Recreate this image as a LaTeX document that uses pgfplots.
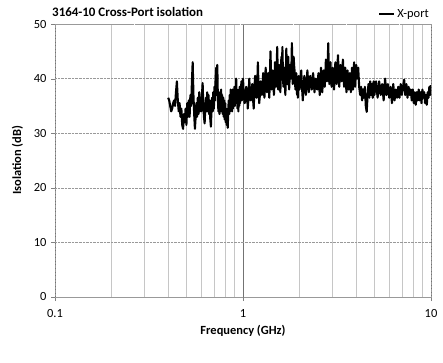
\documentclass[border=0pt]{standalone}
\usepackage{fontspec}
\setmainfont{Carlito}
\usepackage{pgfplots}
\pgfplotsset{compat=1.18}
\begin{document}
\begin{tikzpicture}
\path[use as bounding box] (-55bp,-66bp) rectangle (388bp,297bp);
\begin{axis}[
  at={(0bp,0bp)}, anchor=south west,
  scale only axis,
  width=376bp, height=273bp,
  xmode=log, log basis x=10,
  xmin=0.1, xmax=10, ymin=0, ymax=50,
  xtick={0.1,1,10}, xticklabels={0.1,1,10},
  minor xtick={0.2,0.3,0.4,0.5,0.6,0.7,0.8,0.9,2,3,4,5,6,7,8,9},
  ytick={0,10,20,30,40,50},
  /pgf/number format/assume math mode=true,
  font=\fontsize{12.5}{14}\selectfont,
  axis line style={gray!80, densely dotted},
  xmajorgrids, xminorgrids, ymajorgrids,
  major x grid style={solid, gray!90!black, line width=0.5pt},
  minor x grid style={solid, gray!45, line width=0.5pt},
  major y grid style={densely dotted, gray!80},
  tick style={gray, solid},
  minor tick length=0pt,
  major tick length=4bp,
  tick align=outside,
  xtick pos=bottom, ytick pos=left,
  xticklabel style={yshift=-5bp},
  yticklabel style={xshift=-1bp},
  xlabel={\textbf{Frequency (GHz)}},
  ylabel={\textbf{Isolation (dB)}},
  xlabel style={yshift=-1bp},
  ylabel style={yshift=4bp},
  legend style={at={(1.0,1.0)}, anchor=south east, draw=none, fill=none, inner sep=0pt, font=\fontsize{12.5}{14}\selectfont, yshift=3bp},
  legend image code/.code={\draw[line width=2.2pt] (0bp,0bp) -- (15bp,0bp);},
  legend cell align=left,
]
\addplot[black, line width=2.1pt, line join=round] coordinates {
(0.400,36.5)(0.405,36.0)(0.410,35.0)(0.415,34.0)(0.420,34.5)(0.425,35.5)(0.430,36.0)(0.435,35.0)(0.440,37.5)(0.445,39.5)
(0.450,36.0)(0.455,34.0)(0.460,35.5)(0.465,33.0)(0.470,34.5)(0.475,31.5)(0.480,30.8)(0.485,33.5)(0.490,32.0)(0.495,34.5)
(0.500,31.5)(0.505,35.5)(0.510,33.0)(0.515,36.0)(0.520,33.0)(0.525,37.0)(0.530,35.0)(0.535,39.5)(0.540,43.0)(0.545,37.0)
(0.550,33.5)(0.555,30.8)(0.560,33.0)(0.565,35.5)(0.570,33.0)(0.575,36.5)(0.580,33.5)(0.585,37.5)(0.590,34.0)(0.595,36.5)
(0.600,34.0)(0.605,37.0)(0.610,39.2)(0.615,35.0)(0.620,33.0)(0.625,31.8)(0.630,34.5)(0.635,36.5)(0.640,34.0)(0.645,37.5)
(0.650,34.0)(0.655,37.0)(0.660,33.5)(0.665,36.0)(0.670,32.5)(0.675,31.2)(0.680,34.5)(0.685,36.5)(0.690,34.0)(0.695,37.5)
(0.700,34.5)(0.705,38.5)(0.710,36.0)(0.715,40.0)(0.720,42.0)(0.725,37.0)(0.730,42.5)(0.735,36.5)(0.740,34.0)(0.745,36.5)
(0.750,33.5)(0.755,37.5)(0.760,34.0)(0.765,38.0)(0.770,34.0)(0.775,37.0)(0.780,33.5)(0.785,36.5)(0.790,33.0)(0.795,36.0)
(0.800,32.5)(0.805,35.5)(0.810,32.0)(0.815,34.5)(0.820,31.5)(0.825,33.5)(0.830,31.0)(0.835,34.5)(0.840,36.0)(0.845,33.5)
(0.850,37.0)(0.855,34.0)(0.860,38.0)(0.865,34.5)(0.870,37.5)(0.875,34.0)(0.880,38.0)(0.885,34.5)(0.890,37.0)(0.895,35.0)
(0.900,38.5)(0.905,35.0)(0.910,37.5)(0.915,35.5)(0.920,40.0)(0.925,36.0)(0.930,38.0)(0.935,34.5)(0.940,37.5)(0.945,34.0)
(0.950,38.0)(0.955,35.0)(0.960,38.5)(0.965,35.5)(0.970,38.0)(0.975,36.0)(0.980,39.5)(0.985,36.0)(0.990,38.5)(0.995,36.5)
(1.00,40.0)(1.01,37.0)(1.02,35.5)(1.03,36.0)(1.04,38.5)(1.05,38.0)(1.06,34.5)(1.07,36.5)(1.08,40.0)(1.09,37.0)
(1.10,36.0)(1.11,37.5)(1.12,39.0)(1.13,36.5)(1.14,34.5)(1.15,38.0)(1.16,40.5)(1.17,37.5)(1.18,36.5)(1.19,38.5)
(1.20,43.0)(1.21,38.0)(1.22,35.5)(1.23,37.0)(1.24,39.5)(1.25,38.5)(1.26,37.0)(1.27,38.5)(1.28,41.0)(1.29,38.0)
(1.30,36.5)(1.31,39.0)(1.32,42.0)(1.33,38.5)(1.34,37.5)(1.35,39.0)(1.36,41.0)(1.37,38.5)(1.38,36.5)(1.39,40.0)
(1.40,45.0)(1.41,41.0)(1.42,38.0)(1.43,39.5)(1.44,41.5)(1.45,40.0)(1.46,37.0)(1.47,39.0)(1.48,43.0)(1.49,40.5)
(1.50,38.5)(1.51,41.0)(1.52,45.8)(1.53,41.5)(1.54,38.0)(1.55,40.5)(1.56,42.5)(1.57,39.5)(1.58,37.5)(1.59,40.5)
(1.60,44.0)(1.61,40.0)(1.62,45.8)(1.63,41.5)(1.64,38.5)(1.65,40.0)(1.66,42.0)(1.67,39.5)(1.68,37.0)(1.69,40.5)
(1.70,45.5)(1.71,42.0)(1.72,39.0)(1.73,40.5)(1.74,44.0)(1.75,41.0)(1.76,38.0)(1.77,40.0)(1.78,42.5)(1.79,41.0)
(1.80,40.0)(1.81,42.0)(1.82,46.5)(1.83,42.5)(1.84,39.0)(1.85,41.0)(1.86,44.0)(1.87,42.5)(1.88,41.5)(1.89,40.0)
(1.90,38.0)(1.91,39.5)(1.92,41.0)(1.93,39.0)(1.94,37.0)(1.95,38.5)(1.96,36.5)(1.97,38.5)(1.98,40.5)(1.99,39.0)
(2.00,38.0)(2.02,39.5)(2.04,41.5)(2.06,38.5)(2.08,36.0)(2.10,38.5)(2.12,40.5)(2.14,38.5)(2.16,37.0)(2.18,39.0)
(2.20,41.5)(2.22,39.5)(2.24,37.5)(2.26,39.0)(2.28,40.5)(2.30,39.5)(2.32,38.0)(2.34,39.0)(2.36,41.0)(2.38,39.5)
(2.40,37.5)(2.42,39.0)(2.44,40.0)(2.46,39.0)(2.48,38.0)(2.50,39.5)(2.52,41.0)(2.54,39.0)(2.56,37.0)(2.58,39.5)
(2.60,42.0)(2.62,40.0)(2.64,37.5)(2.66,39.5)(2.68,41.5)(2.70,40.0)(2.72,38.5)(2.74,40.5)(2.76,43.5)(2.78,41.0)
(2.80,39.5)(2.82,42.0)(2.84,46.5)(2.86,42.0)(2.88,39.0)(2.90,41.0)(2.92,43.0)(2.94,40.5)(2.96,38.5)(2.98,40.0)
(3.00,42.0)(3.05,38.0)(3.10,43.0)(3.15,39.0)(3.20,44.3)(3.25,38.5)(3.30,42.5)(3.35,39.5)(3.40,43.5)(3.45,38.5)
(3.50,42.0)(3.55,37.5)(3.60,41.5)(3.65,38.0)(3.70,41.0)(3.75,37.5)(3.80,42.0)(3.85,38.0)(3.90,43.0)(3.95,38.5)
(4.00,42.5)(4.05,40.0)(4.10,42.0)(4.15,38.5)(4.20,37.0)(4.25,38.5)(4.30,36.0)(4.35,38.0)(4.40,36.5)(4.45,38.5)
(4.50,35.0)(4.55,33.9)(4.60,37.0)(4.65,39.0)(4.70,36.5)(4.75,39.5)(4.80,37.0)(4.85,39.0)(4.90,36.5)(4.95,39.5)
(5.0,37.0)(5.1,39.5)(5.2,36.5)(5.3,39.5)(5.4,37.0)(5.5,39.0)(5.6,36.0)(5.7,40.0)(5.8,37.0)(5.9,39.0)
(6.0,36.5)(6.1,38.5)(6.2,35.5)(6.3,39.0)(6.4,36.0)(6.5,38.0)(6.6,36.5)(6.7,38.5)(6.8,36.5)(6.9,39.0)
(7.0,37.0)(7.1,38.5)(7.2,39.8)(7.3,37.0)(7.4,39.0)(7.5,36.5)(7.6,38.5)(7.7,37.0)(7.8,38.0)(7.9,36.0)
(8.0,38.0)(8.1,35.5)(8.2,37.5)(8.3,35.2)(8.4,37.5)(8.5,36.0)(8.6,38.0)(8.7,36.0)(8.8,37.5)(8.9,35.5)
(9.0,38.0)(9.1,36.5)(9.2,37.5)(9.3,35.5)(9.4,37.0)(9.5,35.2)(9.6,37.5)(9.7,36.5)(9.8,38.5)(9.9,37.0)
(10.0,38.8)
};
\addlegendentry{X-port}
\end{axis}
\node[anchor=west, inner sep=0pt, font=\bfseries\fontsize{13}{15}\selectfont] at (-3bp,285bp) {3164-10 Cross-Port isolation};
\end{tikzpicture}
\end{document}
